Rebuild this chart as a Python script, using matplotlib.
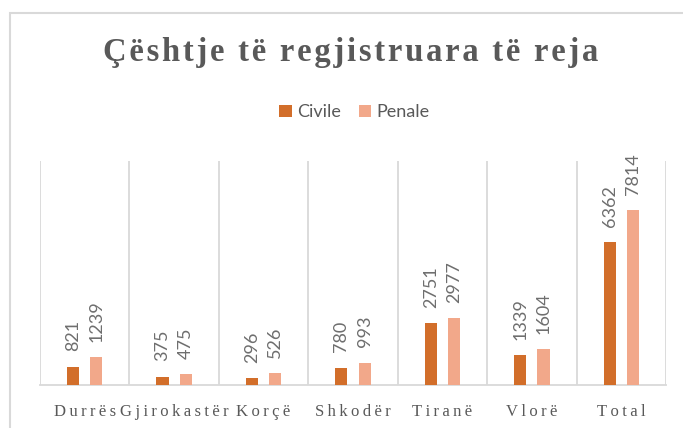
import numpy as np
import matplotlib
matplotlib.use('Agg')
import matplotlib.pyplot as plt
from matplotlib.patches import Rectangle

# Data
categories = ['Durrës', 'Gjirokastër', 'Korçë', 'Shkodër', 'Tiranë', 'Vlorë', 'Total']
civile = [821, 375, 296, 780, 2751, 1339, 6362]
penale = [1239, 475, 526, 993, 2977, 1604, 7814]

c_civile = '#D26E2A'
c_penale = '#F2A88A'
grid_c = '#D9D9D9'
text_c = '#595959'

serif = ['Liberation Serif', 'DejaVu Serif']
sans = ['Lato', 'DejaVu Sans']


def spaced(s, sep='\u2009'):
    return sep.join(s)


fig = plt.figure(figsize=(6.83, 4.28), dpi=100)
ax = fig.add_axes([40 / 683, 1 - 385 / 428, 626 / 683, 224 / 428])

# chart border (clipped by the image on the right and bottom)
fig.patches.append(Rectangle((10 / 683, -0.1), 1.0, 1.1 - 13 / 428, transform=fig.transFigure,
                             fill=False, edgecolor=grid_c, linewidth=1.5))

x = np.arange(len(categories))
w = 0.135
off = 0.13
b1 = ax.bar(x - off, civile, w, color=c_civile, label='Civile', zorder=3)
b2 = ax.bar(x + off, penale, w, color=c_penale, label='Penale', zorder=3)

for bars, vals in [(b1, civile), (b2, penale)]:
    for r, v in zip(bars, vals):
        ax.annotate(str(v), (r.get_x() + r.get_width() / 2, r.get_height()),
                    xytext=(0, 11), textcoords='offset points', rotation=90,
                    ha='center', va='bottom', fontsize=13, color='#6E6E6E', family=sans)

ax.set_xlim(-0.5, len(categories) - 0.5)
ax.set_ylim(0, 10000)
for b in np.arange(-0.5, len(categories), 1.0):
    ax.axvline(b, color=grid_c, linewidth=1.3, zorder=1)
for s in ['top', 'left', 'right']:
    ax.spines[s].set_visible(False)
ax.spines['bottom'].set_color(grid_c)
ax.spines['bottom'].set_linewidth(1.3)
ax.set_yticks([])
ax.set_xticks(x)
ax.set_xticklabels([spaced(c) for c in categories], family=serif, fontsize=12, color=text_c)
ax.tick_params(axis='x', length=0, pad=14)

fig.text(351 / 683, 1 - 61 / 428, spaced('Çështje të regjistruara të reja', '\u200a'), ha='center',
         va='baseline', family=serif, fontsize=23.5, fontweight='bold', color=text_c)

fig.legend(handles=[b1, b2], loc='center', bbox_to_anchor=(354.5 / 683, 1 - 112 / 428), ncol=2,
           frameon=False, prop={'family': sans, 'size': 13}, labelcolor=text_c,
           handlelength=0.67, handleheight=0.67, handletextpad=0.3, columnspacing=1.0)

fig.savefig('out.png', dpi=100)
